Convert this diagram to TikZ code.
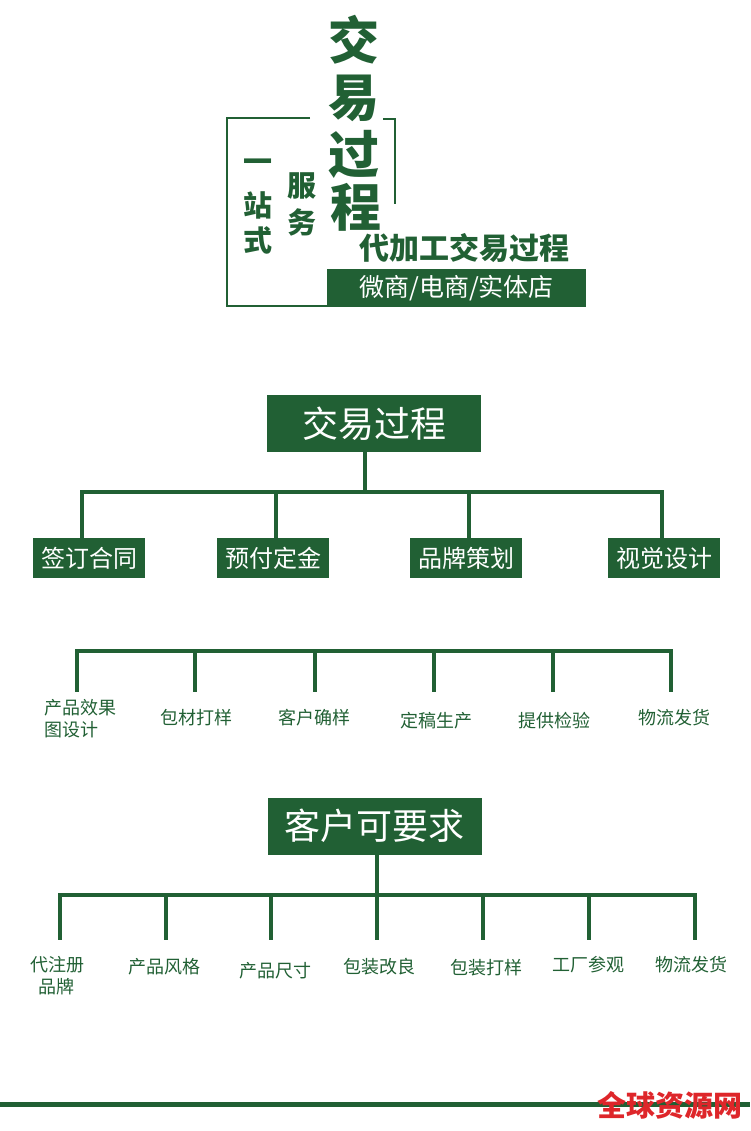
\documentclass[tikz,border=0pt]{standalone}
\usepackage{fontspec}
\newfontfamily\cjk{Noto Sans CJK SC}
\definecolor{dg}{RGB}{33,96,52}
\definecolor{wm}{RGB}{222,38,42}
\tikzset{
  conn/.style={draw=dg,line width=4pt},
  frame/.style={draw=dg,line width=2pt},
  bigch/.style={text=dg,font=\cjk\bfseries\fontsize{51}{51}\selectfont,inner sep=0pt},
  midch/.style={text=dg,font=\cjk\bfseries\fontsize{29}{29}\selectfont,inner sep=0pt},
  rootbox/.style={fill=dg,text=white,font=\cjk\fontsize{36}{36}\selectfont,minimum width=214pt,minimum height=57pt,inner sep=0pt},
  childbox/.style={fill=dg,text=white,font=\cjk\fontsize{24}{24}\selectfont,minimum width=112pt,minimum height=40pt,inner sep=0pt},
  leaf/.style={text=dg,font=\cjk\fontsize{18}{22}\selectfont,align=center,inner sep=0pt},
}
\begin{document}
\begin{tikzpicture}[x=1pt,y=-1pt]
\useasboundingbox (0,0) rectangle (750,1131);
% ---------- header ----------
\coordinate (f1) at (310,118);
\coordinate (f2) at (227,118);
\coordinate (f3) at (227,306);
\coordinate (f4) at (330,306);
\draw[frame] (f1) -- (f2) -- (f3) -- (f4);
\coordinate (g1) at (383,119);
\coordinate (g2) at (395,119);
\coordinate (g3) at (395,204);
\draw[frame] (g1) -- (g2) -- (g3);
\node[bigch] (h1) at (354,40) {交};
\node[bigch] (h2) at (354,98) {易};
\node[bigch] (h3) at (354,154) {过};
\node[bigch] (h4) at (356,207) {程};
\node[midch] (y1) at (258,166) {一};
\node[midch] (y2) at (258,205) {站};
\node[midch] (y3) at (258,240) {式};
\node[midch] (s1) at (302,186) {服};
\node[midch] (s2) at (302,222) {务};
\node[text=dg,font=\cjk\bfseries\fontsize{30}{30}\selectfont,inner sep=0pt] (sub) at (464,248) {代加工交易过程};
\node[fill=dg,text=white,font=\cjk\fontsize{25}{25}\selectfont,minimum width=259pt,minimum height=38pt,inner sep=0pt] (ban) at (456.5,288) {微商/电商/实体店};
% ---------- section 2 ----------
\node[rootbox] (r1) at (374,423.5) {交易过程};
\coordinate (j1) at (365,492);
\coordinate (j1l) at (82,492);
\coordinate (j1r) at (662,492);
\node[childbox] (a1) at (89,558) {签订合同};
\node[childbox] (a2) at (273,558) {预付定金};
\node[childbox] (a3) at (466,558) {品牌策划};
\node[childbox] (a4) at (664,558) {视觉设计};
\draw[conn] (r1.south -| j1) -- (j1);
\draw[conn] ([xshift=-2pt]j1l) -- ([xshift=2pt]j1r);
\coordinate (k1) at (82,492);
\coordinate (k2) at (276,492);
\coordinate (k3) at (469,492);
\coordinate (k4) at (662,492);
\draw[conn] (k1) -- (k1 |- a1.north);
\draw[conn] (k2) -- (k2 |- a2.north);
\draw[conn] (k3) -- (k3 |- a3.north);
\draw[conn] (k4) -- (k4 |- a4.north);
% ---------- section 3 ----------
\coordinate (m1) at (77,651);
\coordinate (m2) at (195,651);
\coordinate (m3) at (315,651);
\coordinate (m4) at (434,651);
\coordinate (m5) at (553,651);
\coordinate (m6) at (671,651);
\draw[conn] ([xshift=-2pt]m1) -- ([xshift=2pt]m6);
\node[leaf,align=left,anchor=west] (b1) at (44,719) {产品效果\\图设计};
\node[leaf] (b2) at (196,718) {包材打样};
\node[leaf] (b3) at (314,718) {客户确样};
\node[leaf] (b4) at (436,721) {定稿生产};
\node[leaf] (b5) at (554,721) {提供检验};
\node[leaf] (b6) at (674,718) {物流发货};
\coordinate (e1) at (77,692);
\coordinate (e2) at (195,692);
\coordinate (e3) at (315,692);
\coordinate (e4) at (434,692);
\coordinate (e5) at (553,692);
\coordinate (e6) at (671,692);
\foreach \i in {1,...,6} \draw[conn] (m\i) -- (e\i);
% ---------- section 4 ----------
\node[rootbox] (r2) at (374.5,826) {客户可要求};
\coordinate (j2) at (377,895);
\draw[conn] (r2.south -| j2) -- (j2);
\coordinate (n1) at (60,895);
\coordinate (n2) at (166,895);
\coordinate (n3) at (271,895);
\coordinate (n4) at (377,895);
\coordinate (n5) at (483,895);
\coordinate (n6) at (589,895);
\coordinate (n7) at (695,895);
\draw[conn] ([xshift=-2pt]n1) -- ([xshift=2pt]n7);
\coordinate (p1) at (60,940);
\coordinate (p2) at (166,940);
\coordinate (p3) at (271,940);
\coordinate (p4) at (377,940);
\coordinate (p5) at (483,940);
\coordinate (p6) at (589,940);
\coordinate (p7) at (695,940);
\foreach \i in {1,...,7} \draw[conn] (n\i) -- (p\i);
\node[leaf] (c1) at (57,976) {代注册\\品牌};
\node[leaf] (c2) at (164,967) {产品风格};
\node[leaf] (c3) at (275,971) {产品尺寸};
\node[leaf] (c4) at (379,967) {包装改良};
\node[leaf] (c5) at (486,968) {包装打样};
\node[leaf] (c6) at (588,965) {工厂参观};
\node[leaf] (c7) at (691,965) {物流发货};
% ---------- bottom ----------
\coordinate (z1) at (0,1104);
\coordinate (z2) at (750,1104);
\draw[draw=dg,line width=5pt] (z1) -- (z2);
\node[text=wm,font=\cjk\bfseries\fontsize{29}{29}\selectfont,inner sep=0pt] (wmk) at (670,1105) {全球资源网};
\end{tikzpicture}
\end{document}
